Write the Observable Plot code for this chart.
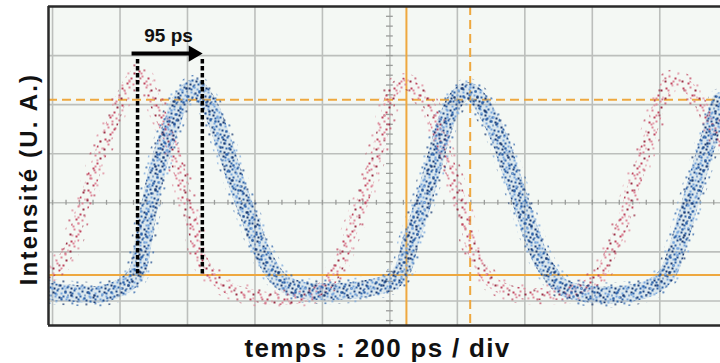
<!DOCTYPE html>
<html>
<head>
<meta charset="utf-8">
<script src="https://cdn.jsdelivr.net/npm/d3@7"></script>
<script src="https://cdn.jsdelivr.net/npm/@observablehq/plot@0.6"></script>
<style>
  html, body { margin: 0; padding: 0; background: #ffffff; }
  #chart { width: 720px; height: 363px; overflow: hidden; }
</style>
</head>
<body>
<div id="chart"></div>
<script>
// ---- Data (time in ps, intensity in screen divisions) ----
const blueTimePs = [-12, 53, 142, 201, 231, 252, 263, 290, 320, 350, 379, 418, 430, 468, 498, 527, 557, 587, 616, 646, 676, 714, 764, 862, 942, 1010, 1040, 1061, 1081, 1111, 1141, 1170, 1200, 1230, 1259, 1289, 1327, 1357, 1387, 1416, 1446, 1476, 1514, 1594, 1692, 1772, 1822, 1852, 1881, 1911, 1941, 1970, 1979];
const blueIntensity = [-1.80, -1.84, -1.86, -1.73, -1.59, -1.40, -1.04, 0.04, 0.92, 1.53, 2.08, 2.35, 2.33, 1.94, 1.41, 0.80, 0.18, -0.37, -0.92, -1.33, -1.59, -1.73, -1.80, -1.80, -1.73, -1.59, -1.33, -0.78, -0.37, 0.31, 1.06, 1.73, 2.14, 2.29, 2.14, 1.82, 1.27, 0.65, 0.04, -0.57, -1.12, -1.45, -1.73, -1.86, -1.86, -1.73, -1.45, -0.92, -0.22, 0.51, 1.20, 1.88, 2.08];

const redTimePs = [-12, 24, 53, 83, 113, 142, 172, 201, 231, 252, 281, 311, 341, 370, 388, 418, 439, 468, 519, 578, 637, 714, 764, 815, 853, 883, 913, 942, 972, 993, 1010, 1040, 1081, 1120, 1150, 1188, 1218, 1247, 1277, 1298, 1357, 1446, 1544, 1615, 1653, 1692, 1721, 1751, 1781, 1801, 1831, 1870, 1911, 1941, 1979];
const redIntensity = [-1.43, -1.22, -0.92, -0.22, 0.39, 1.00, 1.53, 2.08, 2.49, 2.63, 2.43, 1.94, 1.41, 0.80, 0.31, -0.51, -1.12, -1.45, -1.73, -1.86, -1.94, -1.94, -1.86, -1.65, -1.18, -0.63, -0.10, 0.59, 1.27, 1.88, 2.29, 2.43, 2.29, 1.94, 1.27, 0.51, -0.22, -0.98, -1.39, -1.59, -1.80, -1.86, -1.80, -1.53, -1.04, -0.37, 0.31, 0.92, 1.61, 2.08, 2.49, 2.43, 2.14, 1.73, 1.27];

const gridTimePs = [0, 200, 400, 600, 800, 1000, 1200, 1400, 1600, 1800];
const gridDivs = [-2, -1, 0, 1, 2, 3];
const minorTimePs = d3.range(0, 2000, 40);
const minorDivs = d3.range(-2.4, 4, 0.2);

const cursorSolidX = [1049];
const cursorDashedX = [1238];
const cursorSolidY = [-1.47];
const cursorDashedY = [2.1];

const delayMarkersPs = [252, 444];
const delayTop = 2.92;
const delayBottom = -1.49;
const delayLabel = "95 ps";
const delayLabelPos = {t: 344, y: 3.42};
const arrowY = 3.04;

const yLabel = "Intensité (U. A.)";
const xLabel = "temps : 200 ps / div";

// ---- Tables ----
const blue = blueTimePs.map((t, i) => ({t, v: blueIntensity[i]}));
const red = redTimePs.map((t, i) => ({t, v: redIntensity[i]}));

const font = "Liberation Sans, Arial, Helvetica, sans-serif";

// ---- Dot textures (styling only: hand-placed speckles in a repeating tile) ----
const bluePal = ["#1b3b72", "#2f64aa", "#78a6dc", "#234e8e"];
const redPal = ["#c0465f", "#de8799", "#9b2f46"];
const tileDenseBlue = {size: 17, dots: [[1,2,0],[5,0,1],[9,3,2],[13,1,3],[16,5,1],[3,6,2],[7,7,0],[11,6,1],[14,9,2],[0,10,3],[4,11,1],[8,12,0],[12,13,2],[15,14,1],[2,15,0],[6,16,3],[10,15,1],[9,9,1],[13,16,2],[3,3,1]]};
const tileSparseBlue = {size: 23, dots: [[2,3,1],[9,1,2],[16,4,0],[21,9,1],[5,11,2],[12,8,3],[18,15,1],[1,18,0],[9,17,2],[14,21,1],[20,20,2],[7,5,1]]};
const tileDenseRed = {size: 17, dots: [[2,2,0],[9,1,1],[14,4,2],[5,7,1],[11,9,0],[16,11,1],[1,12,2],[7,14,0],[13,15,1],[4,4,1],[9,12,1]]};
const tileSparseRed = {size: 25, dots: [[3,4,1],[14,2,0],[21,9,1],[8,14,2],[18,19,0],[2,22,1],[24,15,1],[11,23,0]]};

function patternSvg(id, tile, pal, s) {
  const rects = tile.dots.map(([x, y, c]) => `<rect x="${x}" y="${y}" width="${s}" height="${s}" fill="${pal[c]}"/>`).join("");
  return `<pattern id="${id}" patternUnits="userSpaceOnUse" width="${tile.size}" height="${tile.size}">${rects}</pattern>`;
}

const chart = Plot.plot({
  width: 720,
  height: 363,
  marginLeft: 48,
  marginRight: 0,
  marginTop: 6,
  marginBottom: 38,
  x: {domain: [-12, 1980], axis: null},
  y: {domain: [-2.5, 4], axis: null},
  style: {fontFamily: font, background: "#ffffff"},
  marks: [
    Plot.frame({fill: "#f4f8f4", stroke: null}),
    Plot.ruleX(gridTimePs, {stroke: "#bcbfbc", strokeWidth: 1.6}),
    Plot.ruleY(gridDivs, {stroke: "#bcbfbc", strokeWidth: 1.6}),
    Plot.ruleY(minorDivs, {x1: 990, x2: 1010, stroke: "#9a9c9a", strokeWidth: 1.3}),
    Plot.ruleX(minorTimePs, {y1: -0.05, y2: 0.05, stroke: "#9a9c9a", strokeWidth: 1.3}),
    // orange cursors
    Plot.ruleX(cursorSolidX, {stroke: "#eea83f", strokeWidth: 2}),
    Plot.ruleY(cursorSolidY, {stroke: "#eea83f", strokeWidth: 2}),
    Plot.ruleX(cursorDashedX, {stroke: "#eea83f", strokeWidth: 2, strokeDasharray: "9 5"}),
    Plot.ruleY(cursorDashedY, {stroke: "#eea83f", strokeWidth: 2, strokeDasharray: "9 5"}),
    // red trace (speckled band)
    Plot.line(red, {x: "t", y: "v", curve: "catmull-rom", stroke: "url(#redSparse)", strokeWidth: 21, clip: true}),
    Plot.line(red, {x: "t", y: "v", curve: "catmull-rom", stroke: "url(#redDense)", strokeWidth: 12, clip: true}),
    // blue trace (speckled band)
    Plot.line(blue, {x: "t", y: "v", curve: "catmull-rom", stroke: "#5b8fd0", strokeWidth: 17, strokeOpacity: 0.16, clip: true}),
    Plot.line(blue, {x: "t", y: "v", curve: "catmull-rom", stroke: "url(#blueSparse)", strokeWidth: 25, clip: true}),
    Plot.line(blue, {x: "t", y: "v", curve: "catmull-rom", stroke: "url(#blueDense)", strokeWidth: 17, clip: true}),
    Plot.line(blue, {x: "t", y: "v", curve: "catmull-rom", stroke: "url(#blueDense2)", strokeWidth: 11, clip: true}),
    // delay annotation
    Plot.ruleX(delayMarkersPs, {y1: delayTop, y2: delayBottom, stroke: "#000", strokeWidth: 3.5, strokeDasharray: "4.5 2.5"}),
    Plot.link([{x1: delayMarkersPs[0], x2: delayMarkersPs[1]}], {x1: "x1", x2: "x2", y1: arrowY, y2: arrowY, stroke: "#000", strokeWidth: 4, dx: -6}),
    Plot.dot([delayMarkersPs[1]], {x: d => d, y: arrowY, symbol: "triangle", r: 6, rotate: 90, fill: "#000", stroke: null, dx: -9}),
    Plot.text([delayLabel], {x: delayLabelPos.t, y: delayLabelPos.y, text: d => d, fontSize: 19, fontWeight: "bold", fill: "#111", dy: 1}),
    // frame edges (right edge is cut off)
    Plot.ruleX([-12], {stroke: "#2a2a2a", strokeWidth: 2.5}),
    Plot.ruleY([4, -2.5], {stroke: "#2a2a2a", strokeWidth: 2.5}),
    // axis titles
    Plot.text([yLabel], {frameAnchor: "left", textAnchor: "middle", lineAnchor: "middle", rotate: -90, dx: -19, dy: 13, text: d => d, fontSize: 24, fontWeight: "bold", fill: "#111"}),
    Plot.text([xLabel], {frameAnchor: "bottom", textAnchor: "middle", lineAnchor: "bottom", dx: -7, dy: 31, text: d => d, fontSize: 26, fontWeight: "bold", fill: "#111"})
  ]
});
d3.select(chart).insert("defs", ":first-child").html(
  patternSvg("blueDense", tileDenseBlue, bluePal, 2) +
  patternSvg("blueDense2", tileSparseBlue, bluePal, 2) +
  patternSvg("blueSparse", tileSparseBlue, bluePal, 1.7) +
  patternSvg("redDense", tileDenseRed, redPal, 2) +
  patternSvg("redSparse", tileSparseRed, redPal, 1.7)
);
d3.select(chart).selectAll("text").filter(function() { return this.textContent === xLabel; }).attr("letter-spacing", "1.3px");
d3.select(chart).selectAll("text").filter(function() { return this.textContent === yLabel; }).attr("letter-spacing", "2.2px");
document.getElementById("chart").appendChild(chart);
</script>
</body>
</html>
